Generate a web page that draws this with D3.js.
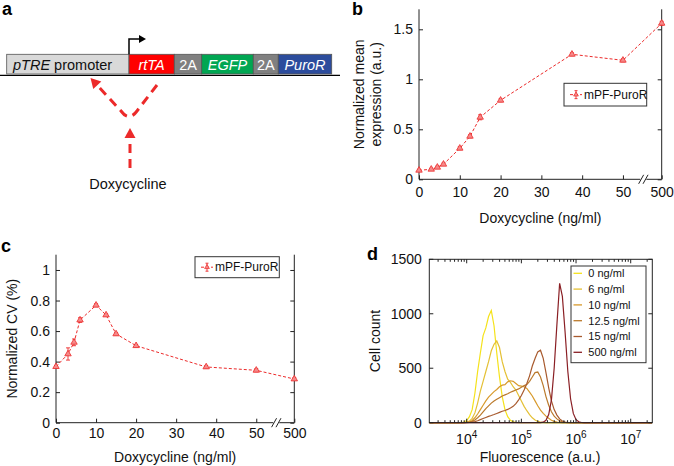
<!DOCTYPE html>
<html><head><meta charset="utf-8">
<script src="https://cdn.jsdelivr.net/npm/d3@7"></script>
<style>body{margin:0;background:#fff}svg{display:block;font-family:"Liberation Sans",Arial,Helvetica,sans-serif}</style>
</head><body><svg id="fig" width="674" height="466"></svg>
<script>
// ---------- data ----------
const constructParts = ["pTRE promoter", "rtTA", "2A", "EGFP", "2A", "PuroR"];
const doses = [0, 3, 4.5, 6, 10, 12.5, 15, 20, 37.5, 50, 500];
const doseTicks = [0, 10, 20, 30, 40, 50, 500];
const meanExpr = [0.09, 0.10, 0.12, 0.15, 0.31, 0.43, 0.62, 0.79, 1.25, 1.19, 1.56];
const meanErr = [0.01, 0.01, 0.012, 0.012, 0.015, 0.015, 0.025, 0.015, 0.015, 0.015, 0.02];
const cvValues = [0.367, 0.45, 0.526, 0.672, 0.769, 0.705, 0.581, 0.504, 0.365, 0.343, 0.286];
const cvErr = [0.008, 0.04, 0.022, 0.015, 0.01, 0.008, 0.008, 0.008, 0.008, 0.01, 0.008];
const exprTicks = [0, 0.5, 1, 1.5];
const cvTicks = [0, 0.2, 0.4, 0.6, 0.8, 1];
const countTicks = [0, 500, 1000, 1500];
const fluorExpTicks = [4, 5, 6, 7];
const histLabels = ["0 ng/ml", "6 ng/ml", "10 ng/ml", "12.5 ng/ml", "15 ng/ml", "500 ng/ml"];
// log10(fluorescence) bin positions
const logBins = [3.32,
  3.80,3.85,3.90,3.95,4.00,4.05,4.10,4.15,4.20,4.25,4.30,4.35,4.40,4.45,4.50,4.55,4.60,4.65,4.70,4.75,
  4.80,4.85,4.90,4.95,5.00,5.05,5.10,5.15,5.20,5.25,5.30,5.35,5.40,5.45,5.50,5.55,5.60,5.65,5.70,5.75,
  5.80,5.85,5.90,5.95,6.00,6.05,6.10,6.15,6.20,
  7.39];
const hist0 = [0, 0,0,2,6,20,55,120,270,470,640,800,870,975,1030,890,640,420,240,120,55,22,8,3,0,
  0,0,0,0,0,0,0,0,0,0,0,0,0,0,0,0,0,0,0,0,0,0,0,0,0, 0];
const hist6 = [0, 0,0,0,2,6,15,40,90,180,290,380,470,560,660,720,750,690,560,470,400,370,330,300,250,
  200,150,110,75,45,25,12,5,2,0,0,0,0,0,0,0,0,0,0,0,0,0,0,0,0, 0];
const hist10 = [0, 0,0,0,0,3,8,20,45,80,120,160,200,235,260,285,305,330,345,350,375,385,380,360,340,
  335,330,315,280,245,200,155,115,85,60,40,22,12,5,2,0,0,0,0,0,0,0,0,0,0, 0];
const hist12 = [0, 0,0,0,0,2,5,12,25,45,70,100,130,155,180,200,215,230,245,255,265,280,290,300,310,
  325,340,350,380,420,460,465,420,340,240,160,100,60,35,18,8,3,0,0,0,0,0,0,0,0, 0];
const hist15 = [0, 0,0,0,0,0,2,5,10,18,28,38,48,58,66,75,85,95,105,112,122,135,150,175,210,
  250,300,360,430,520,590,650,665,590,460,320,200,120,70,35,15,5,2,0,0,0,0,0,0,0, 0];
const hist500 = [0, 0,0,0,0,0,0,0,0,0,0,0,0,0,0,0,0,0,0,0,0,0,0,0,0,
  0,0,0,0,0,0,0,0,5,22,75,210,500,900,1280,1160,830,470,220,85,28,9,2,0,0, 0];
const histData = [hist0, hist6, hist10, hist12, hist15, hist500];

// ---------- helpers ----------
const svg = d3.select("#fig");
const FONT = 14;
const red = "#ec2a2a";
const pos = d => (d === 500 ? 59.5 : d);   // broken axis: 500 placed after the break

function arrowHead(g, tip, from, len, half, color) {
  const dx = tip[0] - from[0], dy = tip[1] - from[1];
  const L = Math.hypot(dx, dy), ux = dx / L, uy = dy / L;
  const bx = tip[0] - ux * len, by = tip[1] - uy * len;
  g.append("polygon")
    .attr("points", [[tip[0], tip[1]], [bx - uy * half, by + ux * half], [bx + uy * half, by - ux * half]].map(p => p.join(",")).join(" "))
    .attr("fill", color);
}

// ---------- panel a ----------
const ga = svg.append("g");
ga.append("text").attr("x", 2).attr("y", 15).attr("font-size", 18).attr("font-weight", "bold").text("a");
const boxEdges = [6.7, 129, 174.3, 201.7, 253.3, 278.3, 331.7];
const boxFill = ["#d9d9d9", "#ff0000", "#808080", "#00a652", "#808080", "#2c4c9c"];
const boxTop = 54.3, boxH = 19.7;
ga.append("line").attr("x1", 0).attr("x2", 340).attr("y1", 75.3).attr("y2", 75.3).attr("stroke", "#000").attr("stroke-width", 1.2);
constructParts.forEach((p, i) => {
  ga.append("rect").attr("x", boxEdges[i]).attr("y", boxTop).attr("width", boxEdges[i + 1] - boxEdges[i]).attr("height", boxH)
    .attr("fill", boxFill[i]).attr("stroke", "#555").attr("stroke-width", 0.8);
  if (i === 0) {
    const t = ga.append("text").attr("x", 13).attr("y", 69.5).attr("font-size", 14.5).attr("fill", "#111");
    t.append("tspan").attr("font-style", "italic").text("pTRE");
    t.append("tspan").text(" promoter");
  } else {
    ga.append("text").attr("x", (boxEdges[i] + boxEdges[i + 1]) / 2).attr("y", 69.5).attr("text-anchor", "middle")
      .attr("font-size", 14.5).attr("fill", "#fff").attr("font-style", p === "2A" ? "normal" : "italic").text(p);
  }
});
// promoter arrow
ga.append("path").attr("d", "M129,54.3 L129,39 L140,39").attr("fill", "none").attr("stroke", "#000").attr("stroke-width", 1.5);
arrowHead(ga, [146, 39], [129, 39], 7, 4, "#000");
// doxycycline dashed arrows
ga.append("path").attr("d", "M157,85 L137,111 Q129,122 121,111 L97,85")
  .attr("fill", "none").attr("stroke", red).attr("stroke-width", 3).attr("stroke-dasharray", "9,6");
arrowHead(ga, [90.5, 78], [122, 112], 10, 5.5, red);
ga.append("path").attr("d", "M130,168 L130,138").attr("fill", "none").attr("stroke", red).attr("stroke-width", 3).attr("stroke-dasharray", "9,6");
arrowHead(ga, [130, 128], [130, 168], 10, 5.5, red);
ga.append("text").attr("x", 128).attr("y", 189).attr("text-anchor", "middle").attr("font-size", 14.5).attr("fill", "#111").text("Doxycycline");

// ---------- dose panels (b, c) ----------
function dosePanel(cfg) {
  const g = svg.append("g");
  const x = d3.scaleLinear().domain([0, 59.5]).range([cfg.x0, cfg.x1]);
  const y = d3.scaleLinear().domain([0, cfg.ymax]).range([cfg.y0, cfg.y1]);
  const xa = d3.axisBottom(x).tickValues(doseTicks.map(pos)).tickFormat((v, i) => doseTicks[i])
    .tickSizeInner(-4).tickSizeOuter(0).tickPadding(cfg.xpad);
  const gx = g.append("g").attr("transform", `translate(0,${cfg.y0})`).call(xa);
  const ya = d3.axisLeft(y).tickValues(cfg.yticks).tickFormat(d => d)
    .tickSizeInner(-4).tickSizeOuter(0).tickPadding(6);
  const gy = g.append("g").attr("transform", `translate(${cfg.x0},0)`).call(ya);
  const yr = d3.axisRight(y).tickValues(cfg.yticks).tickFormat("").tickSizeInner(-4).tickSizeOuter(0);
  const gyr = g.append("g").attr("transform", `translate(${cfg.x1},0)`).call(yr);
  [gx, gy, gyr].forEach(a => {
    a.select(".domain").remove();
    a.selectAll("line").attr("stroke", "#222");
    a.selectAll("text").attr("font-size", FONT).attr("fill", "#111").attr("font-family", null);
  });
  g.append("path").attr("d", `M${cfg.x0},${cfg.y1}V${cfg.y0}H${cfg.x1}V${cfg.y1}`).attr("fill", "none").attr("stroke", "#222").attr("stroke-width", 1);
  // break marks
  const bx = x(55);
  g.append("rect").attr("x", bx - 3).attr("y", cfg.y0 - 1.5).attr("width", 6).attr("height", 3).attr("fill", "#fff");
  [-2.2, 2.2].forEach(o => g.append("line").attr("x1", bx + o - 2.5).attr("y1", cfg.y0 + 4.5).attr("x2", bx + o + 2.5).attr("y2", cfg.y0 - 4.5)
    .attr("stroke", "#222").attr("stroke-width", 1));
  const pts = doses.map((d, i) => [x(pos(d)), y(cfg.vals[i]), cfg.errs[i]]);
  g.append("path").attr("d", d3.line()(pts.map(p => [p[0], p[1]]))).attr("fill", "none")
    .attr("stroke", red).attr("stroke-width", 1).attr("stroke-dasharray", "3,2");
  pts.forEach((p, i) => {
    const e = y(0) - y(p[2]);
    g.append("path").attr("d", `M${p[0]},${p[1] - e}V${p[1] + e}M${p[0] - 2},${p[1] - e}H${p[0] + 2}M${p[0] - 2},${p[1] + e}H${p[0] + 2}`)
      .attr("stroke", red).attr("stroke-width", 0.9).attr("fill", "none");
  });
  g.selectAll("path.mk").data(pts).join("path").attr("class", "mk")
    .attr("transform", p => `translate(${p[0]},${p[1]})`)
    .attr("d", d3.symbol(d3.symbolTriangle, 18)).attr("fill", "#f58a8a").attr("stroke", red).attr("stroke-width", 0.8);
  g.append("text").attr("x", (cfg.x0 + cfg.x1) / 2).attr("y", cfg.xlabY).attr("text-anchor", "middle").attr("font-size", FONT).attr("fill", "#111").text("Doxycycline (ng/ml)");
  cfg.ylab.forEach((t, i) => {
    g.append("text").attr("transform", `translate(${cfg.ylabX[i]},${(cfg.y0 + cfg.y1) / 2}) rotate(-90)`)
      .attr("text-anchor", "middle").attr("dy", "0.35em").attr("font-size", FONT).attr("fill", "#111").text(t);
  });
  const L = cfg.leg;
  g.append("rect").attr("x", L[0]).attr("y", L[1]).attr("width", L[2]).attr("height", L[3]).attr("fill", "#fff").attr("stroke", "#333").attr("stroke-width", 1);
  const ly = L[1] + L[3] / 2, lx = L[0] + 6;
  g.append("line").attr("x1", lx).attr("x2", lx + 12).attr("y1", ly).attr("y2", ly).attr("stroke", red).attr("stroke-dasharray", "3,2");
  g.append("path").attr("d", `M${lx + 6},${ly - 4}V${ly + 4}M${lx + 4.5},${ly - 4}H${lx + 7.5}M${lx + 4.5},${ly + 4}H${lx + 7.5}`).attr("stroke", red).attr("stroke-width", 0.9);
  g.append("path").attr("transform", `translate(${lx + 6},${ly})`).attr("d", d3.symbol(d3.symbolTriangle, 10)).attr("fill", "#f58a8a").attr("stroke", red).attr("stroke-width", 0.7);
  g.append("text").attr("x", lx + 14).attr("y", ly).attr("dy", "0.35em").attr("font-size", 12).attr("fill", "#111").text("mPF-PuroR");
  g.append("text").attr("x", cfg.lab[1]).attr("y", cfg.lab[2]).attr("font-size", 18).attr("font-weight", "bold").text(cfg.lab[0]);
}

dosePanel({ x0: 419, x1: 661.7, y0: 179.3, y1: 9.3, ymax: 1.7, yticks: exprTicks, vals: meanExpr, errs: meanErr,
  xpad: 7.6, xlabY: 223, ylab: ["Normalized mean", "expression (a.u.)"], ylabX: [359.5, 376.5],
  leg: [564, 83.3, 82.7, 22.7], lab: ["b", 352, 15] });
dosePanel({ x0: 56, x1: 294.3, y0: 422.7, y1: 254.7, ymax: 1.1, yticks: cvTicks, vals: cvValues, errs: cvErr,
  xpad: 5.6, xlabY: 462, ylab: ["Normalized CV (%)"], ylabX: [12.5],
  leg: [195, 256.7, 84.3, 21], lab: ["c", 1, 252] });

// ---------- panel d ----------
(function () {
  const g = svg.append("g");
  const x0 = 429.3, x1 = 652.3, y0 = 422.7, y1 = 259.3;
  const x = d3.scaleLog().domain([Math.pow(10, 3.316), Math.pow(10, 7.395)]).range([x0, x1]);
  const y = d3.scaleLinear().domain([0, 1500]).range([y0, y1]);
  const colors = ["#f5e21a", "#e4c035", "#d89a2c", "#bb7a2c", "#a85a2e", "#8a1f24"];
  histData.forEach((s, k) => {
    g.append("path").attr("d", d3.line()(logBins.map((b, i) => [x(Math.pow(10, b)), y(s[i])])))
      .attr("fill", "none").attr("stroke", colors[k]).attr("stroke-width", 1.2);
  });
  g.append("rect").attr("x", x0).attr("y", y1).attr("width", x1 - x0).attr("height", y0 - y1).attr("fill", "none").attr("stroke", "#222").attr("stroke-width", 1);
  for (let e = 3; e <= 7; e++) {
    for (let m = 1; m <= 9; m++) {
      const v = m * Math.pow(10, e);
      if (v < x.domain()[0] || v > x.domain()[1]) continue;
      const len = m === 1 ? 4 : 2.5, xp = x(v);
      g.append("line").attr("x1", xp).attr("x2", xp).attr("y1", y0).attr("y2", y0 - len).attr("stroke", "#222");
      g.append("line").attr("x1", xp).attr("x2", xp).attr("y1", y1).attr("y2", y1 + len).attr("stroke", "#222");
    }
  }
  fluorExpTicks.forEach(e => {
    const t = g.append("text").attr("x", x(Math.pow(10, e))).attr("y", 444.3).attr("text-anchor", "middle").attr("font-size", FONT).attr("fill", "#111");
    t.append("tspan").text("10");
    t.append("tspan").attr("dy", -6).attr("font-size", 10).text(e);
  });
  countTicks.forEach(c => {
    const yp = y(c);
    g.append("line").attr("x1", x0).attr("x2", x0 + 4).attr("y1", yp).attr("y2", yp).attr("stroke", "#222");
    g.append("line").attr("x1", x1).attr("x2", x1 - 4).attr("y1", yp).attr("y2", yp).attr("stroke", "#222");
    g.append("text").attr("x", x0 - 7.5).attr("y", yp).attr("dy", "0.35em").attr("text-anchor", "end").attr("font-size", FONT).attr("fill", "#111").text(c);
  });
  g.append("text").attr("x", 540).attr("y", 462).attr("text-anchor", "middle").attr("font-size", FONT).attr("fill", "#111").text("Fluorescence (a.u.)");
  g.append("text").attr("transform", `translate(375,${(y0 + y1) / 2}) rotate(-90)`).attr("text-anchor", "middle").attr("dy", "0.35em")
    .attr("font-size", FONT).attr("fill", "#111").text("Cell count");
  g.append("rect").attr("x", 571).attr("y", 266).attr("width", 75).attr("height", 96.7).attr("fill", "#fff").attr("stroke", "#333");
  histLabels.forEach((t, k) => {
    const ly = 273.3 + k * 15.8;
    g.append("line").attr("x1", 573.5).attr("x2", 582).attr("y1", ly).attr("y2", ly).attr("stroke", colors[k]).attr("stroke-width", 1.3);
    g.append("text").attr("x", 588.3).attr("y", ly).attr("dy", "0.35em").attr("font-size", 11).attr("fill", "#111").text(t);
  });
  g.append("text").attr("x", 367).attr("y", 260).attr("font-size", 18).attr("font-weight", "bold").text("d");
})();
</script></body></html>
